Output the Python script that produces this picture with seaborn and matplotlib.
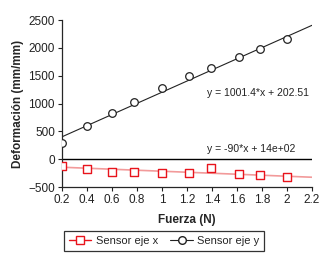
import numpy as np
import pandas as pd
import matplotlib
matplotlib.use("Agg")
import matplotlib.pyplot as plt
import seaborn as sns

sns.set_style("ticks")
plt.rcParams['font.family'] = ['Liberation Sans Narrow', 'Liberation Sans', 'DejaVu Sans']

# data
fuerza = [0.2, 0.4, 0.6, 0.78, 1.0, 1.22, 1.39, 1.62, 1.78, 2.0]
sensor_x = [-126, -180, -233, -233, -240, -240, -160, -270, -290, -320]
sensor_y = [290, 590, 826, 1023, 1275, 1490, 1634, 1831, 1975, 2154]

# fitted lines (slope, intercept) and labels
fit_x = [-90, -125]
fit_y = [1001.4, 202.51]
eq_x = "y = -90*x + 14e+02"
eq_y = "y = 1001.4*x + 202.51"
x_ticks = [0.2, 0.4, 0.6, 0.8, 1, 1.2, 1.4, 1.6, 1.8, 2, 2.2]
y_ticks = [-500, 0, 500, 1000, 1500, 2000, 2500]

df = pd.DataFrame({"Fuerza": fuerza, "x": sensor_x, "y": sensor_y})
xx = np.array([0.2, 2.2])
fit_df = pd.DataFrame({"Fuerza": xx,
                       "fx": fit_x[0] * xx + fit_x[1],
                       "fy": fit_y[0] * xx + fit_y[1]})

fig = plt.figure(figsize=(3.33, 2.57), dpi=100)
ax = fig.add_axes([0.186, 0.272, 0.751, 0.65])

red = "#e8141c"
ax.axhline(0, color="black", lw=1.0, zorder=1)
sns.lineplot(data=fit_df, x="Fuerza", y="fx", color="#f29a9a", lw=1.2, ax=ax, zorder=2)
sns.lineplot(data=fit_df, x="Fuerza", y="fy", color="#222222", lw=0.8, ax=ax, zorder=2)
sns.scatterplot(data=df, x="Fuerza", y="x", marker="s", s=28, facecolor="white",
                edgecolor=red, linewidth=1.0, ax=ax, zorder=3)
sns.scatterplot(data=df, x="Fuerza", y="y", marker="o", s=30, facecolor="white",
                edgecolor="#222222", linewidth=0.9, ax=ax, zorder=3)

ax.text(1.36, 1130, eq_y, fontsize=7.5, color="#222222", va="baseline")
ax.text(1.36, 125, eq_x, fontsize=7.5, color="#222222", va="baseline")

ax.set_xlim(0.2, 2.2)
ax.set_ylim(-500, 2500)
ax.set_xticks(x_ticks)
ax.set_xticklabels([str(t) for t in x_ticks])
ax.set_yticks(y_ticks)
ax.tick_params(labelsize=8.5, length=3, width=0.8, pad=2, colors="#222222")
sns.despine(ax=ax)
ax.spines['left'].set_linewidth(0.9)
ax.spines['bottom'].set_linewidth(0.9)
ax.set_xlabel("Fuerza (N)", fontsize=8.5, fontweight="bold", labelpad=6)
ax.set_ylabel("Deformación (mm/mm)", fontsize=8.5, fontweight="bold", labelpad=3)

# legend
h1, = ax.plot([], [], color=red, lw=1.0, marker="s", ms=5.5, mfc="white", mec=red)
h2, = ax.plot([], [], color="#222222", lw=0.8, marker="o", ms=5.5, mfc="white", mec="#222222")
leg = fig.legend([h1, h2], ["Sensor eje x", "Sensor eje y"], ncol=2,
                 loc="lower left", bbox_to_anchor=(0.183, 0.01), fontsize=8,
                 frameon=True, fancybox=False, edgecolor="black", handlelength=2.0,
                 columnspacing=1.1, handletextpad=0.4, borderpad=0.45, borderaxespad=0.3)
leg.get_frame().set_linewidth(0.9)

fig.savefig("out.png", dpi=100)
